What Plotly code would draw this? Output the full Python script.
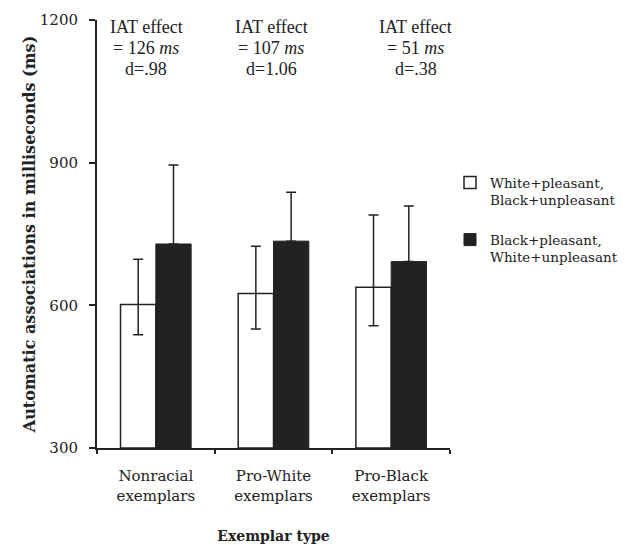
import plotly.graph_objects as go

categories = ["Nonracial<br>exemplars", "Pro-White<br>exemplars", "Pro-Black<br>exemplars"]
white_vals = [602, 625, 638]
white_err_plus = [95, 99, 152]
white_err_minus = [64, 75, 81]
black_vals = [729, 735, 692]
black_err_plus = [166, 103, 117]
black_err_minus = [0, 0, 0]
series_names = ["White+pleasant,<br>Black+unpleasant", "Black+pleasant,<br>White+unpleasant"]
effect_title = ["IAT effect", "IAT effect", "IAT effect"]
effect_ms = ["= 126 <i>ms</i>", "= 107 <i>ms</i>", "= 51 <i>ms</i>"]
effect_d = ["d=.98", "d=1.06", "d=.38"]
effect_offsets = [-0.08, -0.02, 0.21]
y_ticks = [300, 600, 900, 1200]

FONT = "'DejaVu Serif', 'Liberation Serif', serif"
TIMES = "'Liberation Serif', 'Times New Roman', serif"
INK = "#222222"

fig = go.Figure()
fig.add_trace(go.Bar(
    x=categories, y=[v - 300 for v in white_vals], base=300,
    name=series_names[0], legendgroup="a",
    marker=dict(color="white", line=dict(color=INK, width=1.5)),
    error_y=dict(type="data", symmetric=False, array=white_err_plus,
                 arrayminus=white_err_minus, color=INK, thickness=1.5, width=5),
))
fig.add_trace(go.Bar(
    x=categories, y=[v - 300 for v in black_vals], base=300,
    name=series_names[1], legendgroup="b",
    marker=dict(color=INK, line=dict(color=INK, width=1)),
    error_y=dict(type="data", symmetric=False, array=black_err_plus,
                 arrayminus=black_err_minus, color=INK, thickness=1.5, width=5),
))

for i, off in enumerate(effect_offsets):
    for txt, shift in ((effect_title[i], -7), (effect_ms[i], -28), (effect_d[i], -49)):
        fig.add_annotation(x=i + off, y=1.0, xref="x", yref="paper", yanchor="middle",
                           yshift=shift, text=txt, showarrow=False, align="center",
                           font=dict(family=TIMES, size=18, color=INK))

# page body has an 8px default margin, so the figure is sized to fit inside the window
fig.update_layout(
    width=625, height=537,
    margin=dict(l=89, r=183, t=12, b=97, autoexpand=False),
    plot_bgcolor="white", paper_bgcolor="white",
    font=dict(family=FONT, size=15, color=INK),
    barmode="group", bargap=0.4, bargroupgap=0,
    showlegend=True,
    legend=dict(x=1.0, y=0.656, xanchor="left", yanchor="top",
                traceorder="grouped", tracegroupgap=19, valign="top",
                font=dict(family=FONT, size=13.5, color=INK),
                itemwidth=30),
    xaxis=dict(showline=True, linecolor=INK, linewidth=2, ticks="outside",
               tickson="boundaries", ticklen=4, tickcolor=INK, tickwidth=1.5,
               ticklabelstandoff=13,
               range=[-0.5, 2.5],
               title=dict(text="<b>Exemplar type</b>", font=dict(family=FONT, size=14), standoff=28),
               tickfont=dict(family=FONT, size=15)),
    yaxis=dict(range=[300, 1200], tickvals=y_ticks, showline=True, linecolor=INK,
               linewidth=2, ticks="outside", ticklen=6, tickwidth=1.5, tickcolor=INK,
               ticklabelstandoff=8,
               showgrid=False, zeroline=False,
               title=dict(text="<b>Automatic associations in milliseconds (ms)</b>",
                          font=dict(family=FONT, size=16), standoff=0),
               tickfont=dict(family=FONT, size=15)),
)

fig.write_html("out.html")
